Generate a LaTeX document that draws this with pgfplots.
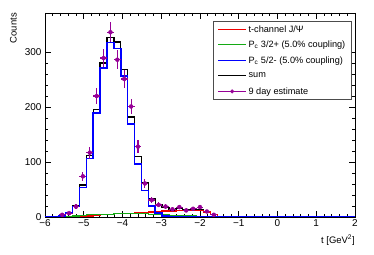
\documentclass[border=0pt]{standalone}
\usepackage{pgfplots}
\pgfplotsset{compat=1.18}
\usepackage{fontspec}
\setmainfont{Liberation Sans}
\definecolor{hred}{RGB}{240,0,0}
\definecolor{hgreen}{RGB}{20,170,20}
\definecolor{hblue}{RGB}{0,0,255}
\definecolor{dmag}{RGB}{150,0,150}
\pgfplotstableread{
x y
-6.0000 0
-5.8222 0
-5.6444 2
-5.4667 7
-5.2889 19
-5.1111 54
-4.9333 106
-4.7556 189
-4.5778 271
-4.4000 317
-4.2222 306
-4.0444 256
-3.8667 169
-3.6889 96
-3.5111 48
-3.3333 20
-3.1556 7
-2.9778 2
-2.8000 0
2.0000 0
}\blue
\pgfplotstableread{
x y
-6.0000 0
-5.2889 0
-5.1111 1
-4.9333 2
-4.7556 3
-4.5778 4
-4.4000 5
-4.2222 6
-4.0444 6
-3.8667 7
-3.6889 8
-3.5111 8
-3.3333 9
-3.1556 10
-2.9778 11
-2.8000 10
-2.6222 12
-2.4444 12
-2.2667 12
-2.0889 12
-1.9111 9
-1.7333 4
-1.5556 0
2.0000 0
}\red
\pgfplotstableread{
x y
-6.0000 0
-5.4667 1
-5.2889 2
-5.1111 3
-4.9333 4
-4.7556 4
-4.5778 5
-4.4000 5
-4.2222 6
-4.0444 6
-3.8667 6
-3.6889 6
-3.5111 6
-3.3333 5
-3.1556 5
-2.9778 4
-2.8000 3
-2.6222 3
-2.4444 2
-2.2667 2
-2.0889 1
-1.9111 1
-1.7333 0
2.0000 0
}\green
\pgfplotstableread{
x y
-6.0000 0
-5.8222 0
-5.6444 2
-5.4667 8
-5.2889 21
-5.1111 58
-4.9333 112
-4.7556 196
-4.5778 280
-4.4000 327
-4.2222 318
-4.0444 268
-3.8667 182
-3.6889 110
-3.5111 62
-3.3333 34
-3.1556 22
-2.9778 17
-2.8000 13
-2.6222 15
-2.4444 14
-2.2667 14
-2.0889 13
-1.9111 10
-1.7333 4
-1.5556 0
2.0000 0
}\sumh
\pgfplotstableread{
x y ex ey
-5.556 4 0.0889 2.0
-5.378 7 0.0889 2.6
-5.200 19 0.0889 4.4
-5.022 74 0.0889 8.6
-4.844 117 0.0889 10.8
-4.667 220 0.0889 14.8
-4.489 289 0.0889 17.0
-4.311 336 0.0889 18.3
-4.133 286 0.0889 16.9
-3.956 251 0.0889 15.8
-3.778 201 0.0889 14.2
-3.600 128 0.0889 11.3
-3.422 61 0.0889 7.8
-3.244 31 0.0889 5.6
-3.067 22 0.0889 4.7
-2.889 19 0.0889 4.4
-2.711 14 0.0889 3.7
-2.533 18 0.0889 4.2
-2.356 12 0.0889 3.5
-2.178 15 0.0889 3.9
-2.000 18 0.0889 4.2
-1.822 10 0.0889 3.2
-1.644 4 0.0889 2.0
}\dat
\begin{document}
\begin{tikzpicture}
\path[use as bounding box] (-45bp,-38bp) rectangle (329bp,217bp);
\begin{axis}[
  name=ax,
  scale only axis, width=310bp, height=204bp,
  xmin=-6, xmax=2, ymin=0, ymax=371,
  xtick={-6,-5,-4,-3,-2,-1,0,1,2},
  xticklabels={−6,−5,−4,−3,−2,−1,0,1,2},
  ytick={0,100,200,300},
  yticklabels={0,100,200,300},
  minor x tick num=4, minor y tick num=4,
  tick align=inside, xtick pos=both, ytick pos=both,
  major tick length=6bp, minor tick length=3bp,
  every tick/.style={black, line width=0.5bp},
  tick label style={font=\fontsize{10}{11}\selectfont},
  xticklabel style={yshift=0.5bp},
  axis line style={line width=0.6bp},
  legend cell align=left,
  legend style={at={(rel axis cs:1,1)}, anchor=north east, xshift=-3.5bp, yshift=-8.5bp,
    draw=black!70, font=\fontsize{9.2}{10}\selectfont,
    inner xsep=4bp, inner ysep=0bp,
    nodes={minimum height=15.5bp, inner ysep=0bp}},
]
\addplot[const plot mark left, black, line width=1.3bp, forget plot] table[x=x,y=y] {\sumh};
\addplot[const plot mark left, hred, line width=1.3bp, forget plot] table[x=x,y=y] {\red};
\addplot[const plot mark left, hgreen, line width=1.3bp, forget plot] table[x=x,y=y] {\green};
\addplot[const plot mark left, hblue, line width=1.5bp, forget plot] table[x=x,y=y] {\blue};
\addplot[only marks, mark=*, mark size=2bp, dmag, forget plot,
  error bars/.cd, x dir=both, x explicit, y dir=both, y explicit,
  error mark=none, error bar style={dmag, line width=1.2bp}]
  table[x=x, y=y, x error=ex, y error=ey] {\dat};
\addlegendimage{legend image code/.code={\draw[draw=hred, line width=1bp] (0bp,0bp) -- (28bp,0bp);}}
\addlegendentry{t-channel J/Ψ}
\addlegendimage{legend image code/.code={\draw[draw=hgreen, line width=1bp] (0bp,0bp) -- (28bp,0bp);}}
\addlegendentry{P\textsubscript{c} 3/2+ (5.0\% coupling)\hspace{16bp}}
\addlegendimage{legend image code/.code={\draw[draw=hblue, line width=1bp] (0bp,0bp) -- (28bp,0bp);}}
\addlegendentry{P\textsubscript{c} 5/2- (5.0\% coupling)}
\addlegendimage{legend image code/.code={\draw[draw=black, line width=1bp] (0bp,0bp) -- (28bp,0bp);}}
\addlegendentry{sum}
\addlegendimage{legend image code/.code={\draw[draw=dmag, line width=1bp] (0bp,0bp) -- (28bp,0bp); \fill[dmag] (14bp,0bp) circle (1.8bp);}}
\addlegendentry{9 day estimate}
\end{axis}
\node[rotate=90, anchor=south east, inner sep=0pt, font=\fontsize{9.5}{11}\selectfont] at ([xshift=-28bp]ax.north west) {Counts};
\node[anchor=east, inner sep=0pt, font=\fontsize{9.5}{11}\selectfont] at ([yshift=-23bp]ax.south east) {t [GeV\textsuperscript{2}]};
\end{tikzpicture}
\end{document}
